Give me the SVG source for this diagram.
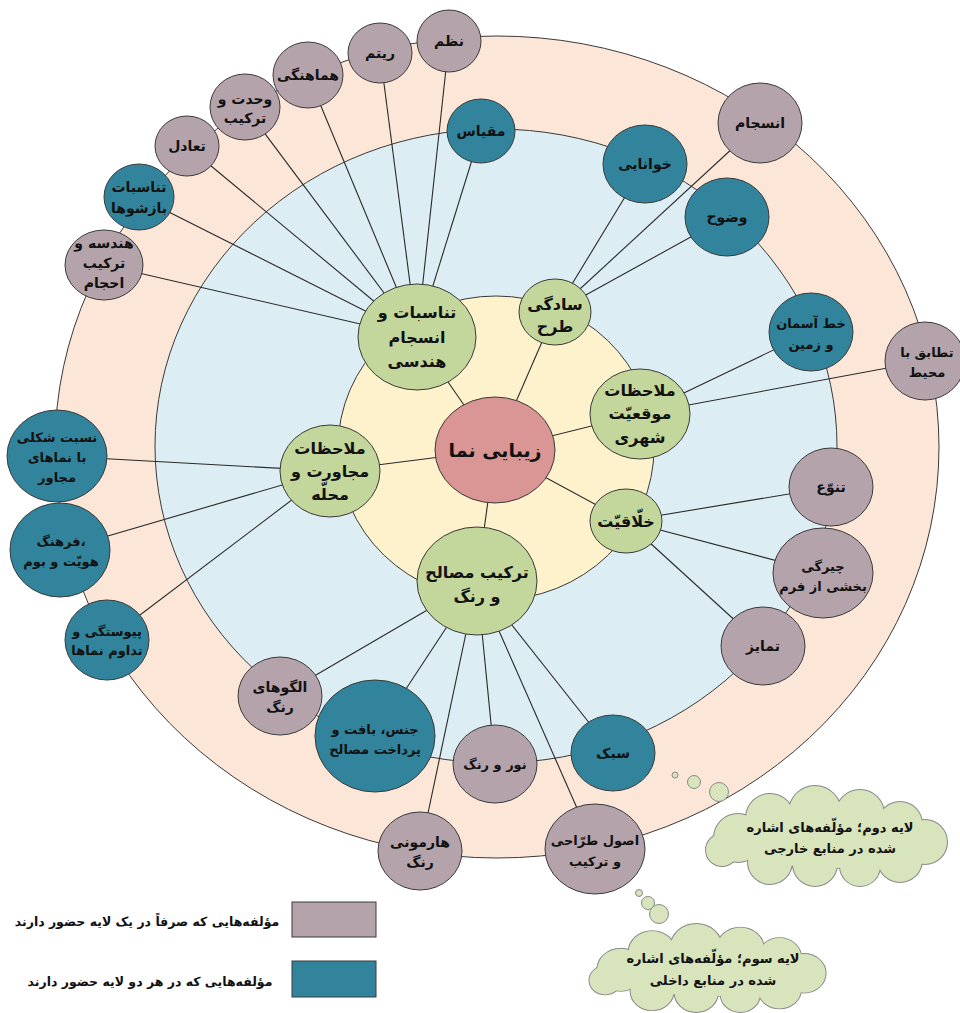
<svg xmlns="http://www.w3.org/2000/svg" xmlns:xlink="http://www.w3.org/1999/xlink" width="960" height="1013" viewBox="0 0 960 1013">
<style>
text{font-family:"DejaVu Sans",sans-serif;font-weight:bold;fill:#111;text-anchor:middle}
.o{font-size:14px}
.s{font-size:13px}
.g{font-size:16px}
.c{font-size:19px}
.l{font-size:12.5px}
.band{stroke:#3a3a3a;stroke-width:1}
.mauve{fill:#b4a3ab;stroke:#3a3a3a;stroke-width:1}
.teal{fill:#31849b;stroke:#3a3a3a;stroke-width:1}
.green{fill:#c3d69b;stroke:#3a3a3a;stroke-width:1}
.rose{fill:#d99694;stroke:#3a3a3a;stroke-width:1}
#connectors line{stroke:#2a2a2a;stroke-width:1.1}
.bub{fill:#d7e4bc;stroke:#8a8a8a;stroke-width:1}
</style>
<defs>
<g id="cloudShape">
<circle cx="-89" cy="2" r="24"/>
<circle cx="-105" cy="14" r="16"/>
<circle cx="-57" cy="-18" r="24"/>
<circle cx="-12" cy="-24" r="26"/>
<circle cx="33" cy="-22" r="24"/>
<circle cx="73" cy="-12" r="22"/>
<circle cx="98" cy="6" r="22"/>
<circle cx="73" cy="24" r="22"/>
<circle cx="33" cy="30" r="20"/>
<circle cx="-12" cy="28" r="22"/>
<circle cx="-57" cy="26" r="22"/>
<ellipse cx="0" cy="2" rx="90" ry="30"/>
</g>
</defs>
<rect width="960" height="1013" fill="#ffffff"/>
<g id="bands">
<ellipse class="band" cx="497" cy="447" rx="442" ry="411" fill="#fbe6d8"/>
<ellipse class="band" cx="496" cy="446" rx="341" ry="317" fill="#dcedf3"/>
<ellipse class="band" cx="496" cy="448" rx="158" ry="152" fill="#fef2cd"/>
</g>
<g id="connectors">
<line x1="495" y1="450" x2="417" y2="337"/>
<line x1="495" y1="450" x2="555" y2="312"/>
<line x1="495" y1="450" x2="640" y2="414"/>
<line x1="495" y1="450" x2="626" y2="521"/>
<line x1="495" y1="450" x2="477" y2="581"/>
<line x1="495" y1="450" x2="330" y2="471"/>
<line x1="417" y1="337" x2="449" y2="41"/>
<line x1="417" y1="337" x2="380" y2="53"/>
<line x1="417" y1="337" x2="308" y2="75"/>
<line x1="417" y1="337" x2="245" y2="107"/>
<line x1="417" y1="337" x2="187" y2="146"/>
<line x1="417" y1="337" x2="139" y2="197"/>
<line x1="417" y1="337" x2="104" y2="265"/>
<line x1="417" y1="337" x2="481" y2="131"/>
<line x1="555" y1="312" x2="645" y2="164"/>
<line x1="555" y1="312" x2="760" y2="123"/>
<line x1="555" y1="312" x2="727" y2="217"/>
<line x1="640" y1="414" x2="811" y2="332"/>
<line x1="640" y1="414" x2="925" y2="361"/>
<line x1="626" y1="521" x2="831" y2="487"/>
<line x1="626" y1="521" x2="823" y2="573"/>
<line x1="626" y1="521" x2="763" y2="646"/>
<line x1="477" y1="581" x2="280" y2="696"/>
<line x1="477" y1="581" x2="375" y2="736"/>
<line x1="477" y1="581" x2="420" y2="851"/>
<line x1="477" y1="581" x2="495" y2="764"/>
<line x1="477" y1="581" x2="595" y2="849"/>
<line x1="477" y1="581" x2="613" y2="753"/>
<line x1="330" y1="471" x2="57" y2="456"/>
<line x1="330" y1="471" x2="60" y2="550"/>
<line x1="330" y1="471" x2="107" y2="640"/>
</g>
<g id="n-center"><ellipse class="rose" cx="495" cy="450" rx="60" ry="53"/><text class="c" x="495" y="457">زیبایی نما</text></g>
<g id="n-tanasobat"><ellipse class="green" cx="417" cy="337" rx="59" ry="53"/><text class="g" x="417" y="318">تناسبات و</text><text class="g" x="417" y="343">انسجام</text><text class="g" x="417" y="367">هندسی</text></g>
<g id="n-sadegi"><ellipse class="green" cx="555" cy="312" rx="36" ry="33"/><text class="g" x="555" y="310">سادگی</text><text class="g" x="555" y="332">طرح</text></g>
<g id="n-mowqeiat"><ellipse class="green" cx="640" cy="414" rx="50" ry="45"/><text class="g" x="640" y="396">ملاحظات</text><text class="g" x="640" y="419">موقعیّت</text><text class="g" x="640" y="443">شهری</text></g>
<g id="n-khallaghiat"><ellipse class="green" cx="626" cy="521" rx="36" ry="32"/><text class="g" x="626" y="527">خلّاقیّت</text></g>
<g id="n-tarkib"><ellipse class="green" cx="477" cy="581" rx="60" ry="54"/><text class="g" x="477" y="578">ترکیب مصالح</text><text class="g" x="477" y="602">و رنگ</text></g>
<g id="n-mojaverat"><ellipse class="green" cx="330" cy="471" rx="50" ry="46"/><text class="g" x="330" y="454">ملاحظات</text><text class="g" x="330" y="477">مجاورت و</text><text class="g" x="330" y="500">محلّه</text></g>
<g id="n-nazm"><ellipse class="mauve" cx="449" cy="41" rx="32" ry="31"/><text class="o" x="449" y="46">نظم</text></g>
<g id="n-ritm"><ellipse class="mauve" cx="380" cy="53" rx="32" ry="30"/><text class="o" x="380" y="58">ریتم</text></g>
<g id="n-hamahangi"><ellipse class="mauve" cx="308" cy="75" rx="35" ry="33"/><text class="o" x="308" y="80">هماهنگی</text></g>
<g id="n-vahdat"><ellipse class="mauve" cx="245" cy="107" rx="35" ry="33"/><text class="o" x="245" y="104">وحدت و</text><text class="o" x="245" y="123">ترکیب</text></g>
<g id="n-tadol"><ellipse class="mauve" cx="187" cy="146" rx="32" ry="30"/><text class="o" x="187" y="151">تعادل</text></g>
<g id="n-bazshoha"><ellipse class="teal" cx="139" cy="197" rx="35" ry="33"/><text class="o" x="139" y="192">تناسبات</text><text class="o" x="139" y="213">بازشوها</text></g>
<g id="n-hendese"><ellipse class="mauve" cx="104" cy="265" rx="39" ry="35"/><text class="o" x="104" y="248">هندسه و</text><text class="o" x="104" y="268">ترکیب</text><text class="o" x="104" y="288">احجام</text></g>
<g id="n-meghyas"><ellipse class="teal" cx="481" cy="131" rx="34" ry="32"/><text class="o" x="481" y="136">مقیاس</text></g>
<g id="n-khanaei"><ellipse class="teal" cx="645" cy="164" rx="42" ry="39"/><text class="o" x="645" y="169">خوانایی</text></g>
<g id="n-ensejam"><ellipse class="mauve" cx="760" cy="123" rx="42" ry="40"/><text class="o" x="760" y="128">انسجام</text></g>
<g id="n-vozuh"><ellipse class="teal" cx="727" cy="217" rx="42" ry="39"/><text class="o" x="727" y="222">وضوح</text></g>
<g id="n-khatasman"><ellipse class="teal" cx="811" cy="332" rx="42" ry="39"/><text class="s" x="811" y="328">خط آسمان</text><text class="s" x="811" y="349">و زمین</text></g>
<g id="n-tatabogh"><ellipse class="mauve" cx="925" cy="361" rx="40" ry="39"/><text class="s" x="927" y="357">تطابق با</text><text class="s" x="927" y="377">محیط</text></g>
<g id="n-tanavo"><ellipse class="mauve" cx="831" cy="487" rx="42" ry="39"/><text class="o" x="831" y="492">تنوّع</text></g>
<g id="n-chiregi"><ellipse class="mauve" cx="823" cy="573" rx="50" ry="45"/><text class="s" x="823" y="571">چیرگی</text><text class="s" x="823" y="591">بخشی از فرم</text></g>
<g id="n-tamayoz"><ellipse class="mauve" cx="763" cy="646" rx="42" ry="39"/><text class="o" x="763" y="651">تمایز</text></g>
<g id="n-sabk"><ellipse class="teal" cx="613" cy="753" rx="42" ry="38"/><text class="o" x="613" y="758">سبک</text></g>
<g id="n-osul"><ellipse class="mauve" cx="595" cy="849" rx="50" ry="45"/><text class="s" x="595" y="845">اصول طرّاحی</text><text class="s" x="595" y="866">و ترکیب</text></g>
<g id="n-nur"><ellipse class="mauve" cx="495" cy="764" rx="42" ry="39"/><text class="s" x="495" y="769">نور و رنگ</text></g>
<g id="n-harmoni"><ellipse class="mauve" cx="420" cy="851" rx="42" ry="39"/><text class="o" x="420" y="847">هارمونی</text><text class="o" x="420" y="867">رنگ</text></g>
<g id="n-jens"><ellipse class="teal" cx="375" cy="736" rx="60" ry="56"/><text class="s" x="375" y="734">جنس، بافت و</text><text class="s" x="375" y="754">پرداخت مصالح</text></g>
<g id="n-olgu"><ellipse class="mauve" cx="280" cy="696" rx="42" ry="39"/><text class="o" x="280" y="692">الگوهای</text><text class="o" x="280" y="712">رنگ</text></g>
<g id="n-nesbat"><ellipse class="teal" cx="57" cy="456" rx="50" ry="46"/><text class="s" x="57" y="442">نسبت شکلی</text><text class="s" x="57" y="462">با نماهای</text><text class="s" x="57" y="482">مجاور</text></g>
<g id="n-farhang"><ellipse class="teal" cx="60" cy="550" rx="50" ry="47"/><text class="s" x="61" y="546">فرهنگ،</text><text class="s" x="61" y="566">هویّت و بوم</text></g>
<g id="n-peyvastegi"><ellipse class="teal" cx="107" cy="640" rx="42" ry="40"/><text class="s" x="107" y="636">پیوستگی و</text><text class="s" x="107" y="655">تداوم نماها</text></g>
<g id="bubbles">
<circle class="bub" cx="675" cy="775" r="3"/>
<circle class="bub" cx="694" cy="782" r="6.5"/>
<circle class="bub" cx="719" cy="792" r="9.5"/>
<circle class="bub" cx="639" cy="893" r="3.5"/>
<circle class="bub" cx="648" cy="903" r="6.5"/>
<circle class="bub" cx="659" cy="914" r="9.5"/>
</g>
<g id="cloud-2">
<use xlink:href="#cloudShape" transform="translate(827,836)" fill="none" stroke="#8a8a8a" stroke-width="2"/>
<use xlink:href="#cloudShape" transform="translate(827,836)" fill="#d7e4bc" stroke="none"/>
<text class="s" x="830" y="832">لایه دوم؛ مؤلّفه‌های اشاره</text>
<text class="s" x="830" y="853">شده در منابع خارجی</text>
</g>
<g id="cloud-3">
<use xlink:href="#cloudShape" transform="translate(708,968) scale(0.98,0.88)" fill="none" stroke="#8a8a8a" stroke-width="2"/>
<use xlink:href="#cloudShape" transform="translate(708,968) scale(0.98,0.88)" fill="#d7e4bc" stroke="none"/>
<text class="s" x="713" y="963">لایه سوم؛ مؤلّفه‌های اشاره</text>
<text class="s" x="713" y="985">شده در منابع داخلی</text>
</g>
<g id="legend">
<rect x="292" y="902" width="84" height="35" fill="#b4a3ab" stroke="#3a3a3a" stroke-width="1"/>
<text class="l" x="147" y="926">مؤلفه‌هایی که صرفاً در یک لایه حضور دارند</text>
<rect x="292" y="961" width="84" height="36" fill="#31849b" stroke="#3a3a3a" stroke-width="1"/>
<text class="l" x="150" y="986">مؤلفه‌هایی که در هر دو لایه حضور دارند</text>
</g>
</svg>
